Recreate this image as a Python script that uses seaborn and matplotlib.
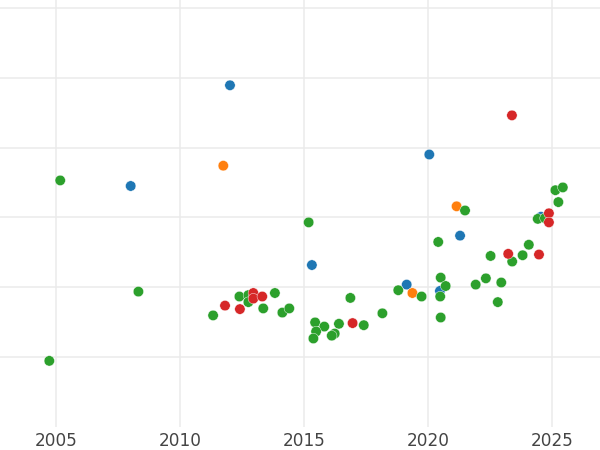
import seaborn as sns
import matplotlib.pyplot as plt
import pandas as pd

# values (year, score) per group
blue_year = [2012.01, 2008.01, 2020.04, 2015.31, 2021.28, 2019.13, 2020.47, 2024.54]
blue_val = [4.89, 3.45, 3.90, 2.32, 2.74, 2.04, 1.95, 3.01]

orange_year = [2011.74, 2021.14, 2019.36]
orange_val = [3.74, 3.16, 1.92]

green_year = [2005.17, 2004.73, 2008.32, 2015.18, 2011.33, 2012.39, 2012.75, 2012.75,
              2013.35, 2013.82, 2014.12, 2014.40, 2016.86, 2017.40, 2018.15, 2018.79,
              2019.73, 2020.40, 2020.50, 2020.70, 2020.48, 2020.50, 2021.48, 2021.91,
              2022.32, 2022.94, 2022.80, 2022.51, 2023.38, 2023.80, 2024.05, 2024.41,
              2024.70, 2025.12, 2025.42, 2025.24, 2015.44, 2015.81, 2016.40, 2016.23,
              2016.11, 2015.48, 2015.37]
green_val = [3.53, 0.95, 1.94, 2.93, 1.60, 1.87, 1.89, 1.79,
             1.70, 1.92, 1.64, 1.70, 1.85, 1.46, 1.63, 1.96,
             1.87, 2.65, 2.14, 2.02, 1.87, 1.57, 3.10, 2.04,
             2.13, 2.07, 1.79, 2.45, 2.37, 2.46, 2.61, 2.98,
             2.99, 3.39, 3.43, 3.22, 1.50, 1.44, 1.48, 1.34,
             1.31, 1.37, 1.27]

red_year = [2023.37, 2024.86, 2024.86, 2023.22, 2024.46, 2016.95, 2011.81, 2012.41,
            2012.95, 2012.95, 2013.31]
red_val = [4.46, 3.06, 2.93, 2.48, 2.47, 1.49, 1.74, 1.69, 1.92, 1.84, 1.87]

groups = ["A", "B", "C", "D"]
colours = ["#1f77b4", "#ff7f0e", "#2ca02c", "#d62728"]

df = pd.concat([
    pd.DataFrame({"year": blue_year, "value": blue_val, "group": "A"}),
    pd.DataFrame({"year": orange_year, "value": orange_val, "group": "B"}),
    pd.DataFrame({"year": green_year, "value": green_val, "group": "C"}),
    pd.DataFrame({"year": red_year, "value": red_val, "group": "D"}),
], ignore_index=True)

sns.set_style("whitegrid", {"grid.color": "#ebebeb"})

fig = plt.figure(figsize=(6, 4.5), dpi=100)
# the picture is a crop of a bigger chart: the axes fill the frame
ax = fig.add_axes([0, 0.0504, 1, 0.9496])

sns.scatterplot(data=df, x="year", y="value", hue="group", hue_order=groups,
                palette=colours, s=56, edgecolor="white", linewidth=0.3,
                legend=False, ax=ax, zorder=3)

ax.set_xlim(2002.744, 2026.918)
ax.set_ylim(0, 6.109)
ax.set_xticks([2005, 2010, 2015, 2020, 2025])
ax.set_yticks([1, 2, 3, 4, 5, 6])
ax.set_yticklabels([])
ax.grid(True, color="#ebebeb", linewidth=1.1)
ax.set_axisbelow(True)
ax.tick_params(axis="x", length=0, pad=3.5, labelsize=12.2, labelcolor="#444444")
ax.tick_params(axis="y", length=0)
ax.set_xlabel("")
ax.set_ylabel("")
sns.despine(ax=ax, left=True, bottom=True)

fig.savefig("out.png", dpi=100)
